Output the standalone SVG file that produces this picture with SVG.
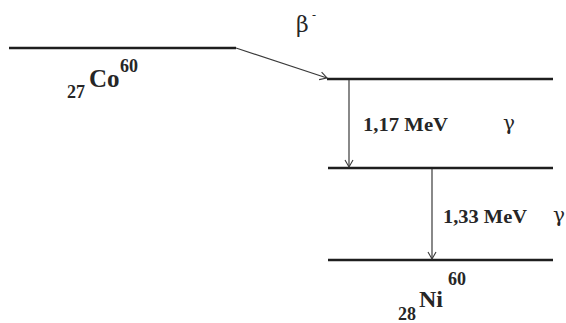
<svg xmlns="http://www.w3.org/2000/svg" width="566" height="323" viewBox="0 0 566 323">
<defs>
<style>
.lvl{stroke:#1e1e1e;stroke-width:2.6;fill:none}
.tr{stroke:#3a3a3a;stroke-width:1.2;fill:none}
.lbl{font-family:"Liberation Serif","Times New Roman",serif;font-weight:bold;fill:#262626}
.gr{font-family:"DejaVu Serif","Liberation Serif",serif;fill:#262626}
</style>
<marker id="ah" markerWidth="10" markerHeight="10" refX="8" refY="5" orient="auto" markerUnits="userSpaceOnUse">
<path d="M1,1 L8,5 L1,9" fill="none" stroke="#3a3a3a" stroke-width="1.1"/>
</marker>
</defs>
<rect width="566" height="323" fill="#fff"/>
<g id="co60">
<line class="lvl" x1="9" y1="48" x2="236" y2="48"/>
<text class="lbl" x="67" y="98" font-size="18">27</text>
<text class="lbl" x="89" y="87" font-size="25">Co</text>
<text class="lbl" x="120" y="72" font-size="18">60</text>
</g>
<g id="level1">
<line class="lvl" x1="327" y1="79" x2="553" y2="79"/>
</g>
<g id="level2">
<line class="lvl" x1="328" y1="168" x2="553" y2="168"/>
</g>
<g id="ni60">
<line class="lvl" x1="328" y1="260" x2="553" y2="260"/>
<text class="lbl" x="398" y="320" font-size="18">28</text>
<text class="lbl" x="419" y="307" font-size="24">Ni</text>
<text class="lbl" x="448" y="285" font-size="18">60</text>
</g>
<g id="connectors">
<line class="tr" x1="236" y1="48" x2="327" y2="78" marker-end="url(#ah)"/>
<line class="tr" x1="349" y1="80" x2="349" y2="167" marker-end="url(#ah)"/>
<line class="tr" x1="432" y1="169" x2="432" y2="259" marker-end="url(#ah)"/>
</g>
<g id="labels">
<text class="gr" x="296" y="32" font-size="22">β</text>
<text class="gr" x="312" y="19" font-size="12">-</text>
<text class="lbl" x="363" y="131" font-size="18" textLength="85" lengthAdjust="spacingAndGlyphs">1,17 MeV</text>
<text class="gr" x="503" y="130" font-size="20">γ</text>
<text class="lbl" x="443" y="223" font-size="18" textLength="84" lengthAdjust="spacingAndGlyphs">1,33 MeV</text>
<text class="gr" x="553" y="222" font-size="20">γ</text>
</g>
</svg>
